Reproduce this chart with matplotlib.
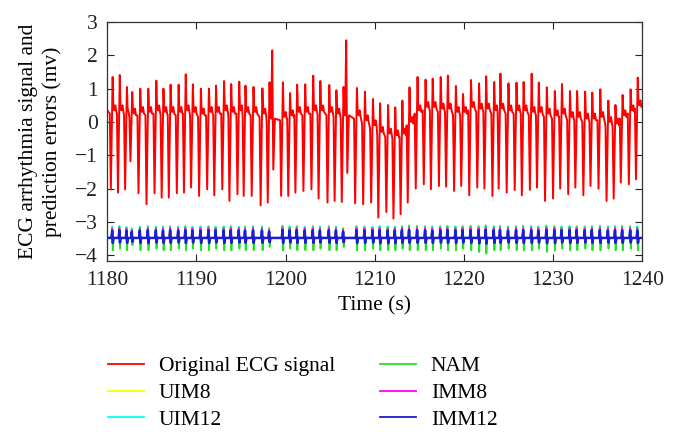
import matplotlib
matplotlib.use("Agg")
import matplotlib.pyplot as plt
from matplotlib.lines import Line2D

# ---------------- data ----------------
beat_t = [1180.6, 1181.4, 1182.2, 1182.8, 1183.7, 1184.6, 1185.5, 1186.3, 1187.1, 1188.0,
          1188.8, 1189.6, 1190.5, 1191.4, 1192.2, 1193.1, 1193.9, 1194.8, 1195.5, 1196.4,
          1197.4, 1198.2, 1199.7, 1200.5, 1201.3, 1202.2, 1203.1, 1203.9, 1204.9, 1205.7,
          1206.5, 1208.0, 1208.9, 1209.8, 1210.6, 1211.5, 1212.3, 1213.1, 1213.9, 1214.8,
          1215.7, 1216.5, 1217.4, 1218.2, 1219.1, 1219.9, 1220.8, 1221.7, 1222.5, 1223.4,
          1224.1, 1225.0, 1225.9, 1226.7, 1227.6, 1228.4, 1229.3, 1230.2, 1231.0, 1231.9,
          1232.7, 1233.6, 1234.4, 1235.3, 1236.2, 1237.0, 1237.8, 1238.7, 1239.5]
r_peak = [1.35, 1.41, 1.05, 0.90, 1.00, 1.00, 1.24, 1.00, 1.12, 1.12,
          1.43, 1.13, 1.00, 1.00, 1.09, 1.23, 1.14, 1.21, 1.09, 1.05,
          1.01, 1.19, 1.19, 0.87, 1.12, 1.13, 1.39, 1.23, 1.11, 0.95,
          1.05, 1.02, 0.91, 0.69, 0.56, 0.51, 0.44, 0.64, 1.04, 1.35,
          1.27, 1.30, 1.35, 1.39, 1.08, 0.84, 1.26, 1.16, 1.37, 1.20,
          1.45, 1.16, 1.18, 1.20, 1.45, 1.18, 1.04, 0.93, 1.14, 0.93,
          0.93, 0.91, 0.88, 0.98, 0.64, 0.51, 0.81, 0.98, 1.33]
s_trough = [-2.02, -2.12, -2.02, -1.18, -2.14, -2.47, -2.14, -2.27, -2.27, -2.14,
            -2.12, -1.97, -2.22, -2.02, -2.20, -2.02, -2.37, -2.17, -2.22, -2.22,
            -2.50, -2.42, -2.22, -2.22, -2.12, -2.07, -2.02, -2.30, -2.42, -2.37,
            -2.40, -2.44, -2.47, -2.42, -2.87, -2.70, -2.90, -2.77, -2.42, -2.00,
            -1.87, -2.02, -1.92, -1.94, -2.07, -1.92, -2.20, -1.97, -2.00, -2.22,
            -2.00, -2.12, -2.04, -2.20, -2.04, -1.97, -2.37, -2.30, -2.00, -2.17,
            -1.97, -2.20, -1.92, -2.00, -2.37, -2.30, -1.82, -1.87, -1.72]
base = [0.35, 0.35, 0.30, 0.25, 0.30, 0.30, 0.35, 0.30, 0.30, 0.30,
        0.35, 0.30, 0.25, 0.30, 0.30, 0.35, 0.30, 0.35, 0.30, 0.30,
        0.25, 0.10, 0.15, 0.20, 0.30, 0.30, 0.35, 0.35, 0.30, 0.25,
        0.20, 0.20, 0.05, -0.10, -0.30, -0.35, -0.40, -0.35, 0.00, 0.35,
        0.45, 0.45, 0.40, 0.40, 0.30, 0.30, 0.45, 0.40, 0.40, 0.35,
        0.40, 0.35, 0.35, 0.35, 0.30, 0.30, 0.25, 0.20, 0.25, 0.15,
        0.15, 0.10, 0.10, 0.15, 0.00, -0.05, 0.20, 0.35, 0.50]
ect_t = [1198.5, 1206.8]
ect_peak = [2.15, 2.45]
ect_trough = [-1.43, -1.53]

err_base = -3.48
nam_hi = [-3.17, -3.15, -3.18, -3.22, -3.16, -3.15, -3.17, -3.16, -3.15, -3.17,
          -3.15, -3.17, -3.16, -3.15, -3.17, -3.16, -3.15, -3.17, -3.16, -3.15,
          -3.16, -3.20, -3.13, -3.16, -3.15, -3.17, -3.15, -3.16, -3.15, -3.17,
          -3.20, -3.15, -3.16, -3.17, -3.15, -3.16, -3.17, -3.15, -3.12, -3.14,
          -3.15, -3.16, -3.15, -3.14, -3.16, -3.15, -3.14, -3.15, -3.12, -3.15,
          -3.14, -3.16, -3.15, -3.14, -3.15, -3.16, -3.13, -3.15, -3.16, -3.15,
          -3.15, -3.16, -3.15, -3.14, -3.16, -3.15, -3.14, -3.15, -3.16]
nam_lo = [-3.85, -3.80, -3.85, -3.70, -3.85, -3.85, -3.80, -3.85, -3.85, -3.80,
          -3.85, -3.80, -3.85, -3.85, -3.80, -3.85, -3.85, -3.80, -3.85, -3.85,
          -3.85, -3.75, -3.85, -3.80, -3.85, -3.85, -3.85, -3.80, -3.85, -3.85,
          -3.75, -3.85, -3.85, -3.80, -3.85, -3.85, -3.85, -3.80, -3.85, -3.85,
          -3.85, -3.85, -3.80, -3.85, -3.85, -3.80, -3.85, -3.90, -3.95, -3.85,
          -3.85, -3.80, -3.85, -3.85, -3.85, -3.80, -3.90, -3.85, -3.80, -3.85,
          -3.85, -3.80, -3.85, -3.85, -3.80, -3.85, -3.85, -3.80, -3.85]
uim8_hi = [-3.18, -3.17, -3.19, -3.22, -3.18, -3.17, -3.18, -3.18, -3.17, -3.18,
           -3.17, -3.18, -3.18, -3.17, -3.18, -3.18, -3.17, -3.18, -3.18, -3.17,
           -3.18, -3.21, -3.16, -3.18, -3.17, -3.18, -3.17, -3.18, -3.17, -3.18,
           -3.21, -3.17, -3.18, -3.18, -3.17, -3.18, -3.18, -3.17, -3.16, -3.17,
           -3.17, -3.18, -3.17, -3.17, -3.18, -3.17, -3.17, -3.17, -3.16, -3.17,
           -3.17, -3.18, -3.17, -3.17, -3.17, -3.18, -3.16, -3.17, -3.18, -3.17,
           -3.17, -3.18, -3.17, -3.17, -3.18, -3.17, -3.17, -3.17, -3.18]
uim8_lo = [-3.58, -3.57, -3.58, -3.55, -3.58, -3.59, -3.57, -3.58, -3.58, -3.57,
           -3.58, -3.57, -3.58, -3.58, -3.57, -3.58, -3.58, -3.57, -3.58, -3.58,
           -3.58, -3.56, -3.58, -3.57, -3.58, -3.58, -3.58, -3.57, -3.58, -3.58,
           -3.56, -3.58, -3.58, -3.57, -3.59, -3.59, -3.59, -3.58, -3.58, -3.58,
           -3.58, -3.58, -3.57, -3.58, -3.58, -3.57, -3.58, -3.59, -3.60, -3.58,
           -3.58, -3.57, -3.58, -3.58, -3.58, -3.57, -3.59, -3.58, -3.57, -3.58,
           -3.58, -3.57, -3.58, -3.58, -3.57, -3.58, -3.58, -3.57, -3.58]
uim12_hi = [-3.14, -3.12, -3.15, -3.19, -3.14, -3.12, -3.14, -3.13, -3.12, -3.14,
            -3.12, -3.14, -3.13, -3.12, -3.14, -3.13, -3.12, -3.14, -3.13, -3.12,
            -3.13, -3.18, -3.11, -3.13, -3.12, -3.14, -3.12, -3.13, -3.12, -3.14,
            -3.18, -3.12, -3.13, -3.14, -3.12, -3.13, -3.14, -3.12, -3.10, -3.11,
            -3.12, -3.13, -3.12, -3.11, -3.13, -3.12, -3.11, -3.12, -3.10, -3.12,
            -3.11, -3.13, -3.12, -3.11, -3.12, -3.13, -3.10, -3.12, -3.13, -3.12,
            -3.12, -3.13, -3.12, -3.11, -3.13, -3.12, -3.11, -3.12, -3.13]
uim12_lo = [-3.57, -3.56, -3.57, -3.54, -3.57, -3.58, -3.56, -3.57, -3.57, -3.56,
            -3.57, -3.56, -3.57, -3.57, -3.56, -3.57, -3.57, -3.56, -3.57, -3.57,
            -3.57, -3.55, -3.57, -3.56, -3.57, -3.57, -3.57, -3.56, -3.57, -3.57,
            -3.55, -3.57, -3.57, -3.56, -3.58, -3.58, -3.58, -3.57, -3.57, -3.57,
            -3.57, -3.57, -3.56, -3.57, -3.57, -3.56, -3.57, -3.58, -3.59, -3.57,
            -3.57, -3.56, -3.57, -3.57, -3.57, -3.56, -3.58, -3.57, -3.56, -3.57,
            -3.57, -3.56, -3.57, -3.57, -3.56, -3.57, -3.57, -3.56, -3.57]
imm8_hi = [-3.21, -3.20, -3.22, -3.25, -3.21, -3.20, -3.21, -3.21, -3.20, -3.21,
           -3.20, -3.21, -3.21, -3.20, -3.21, -3.21, -3.20, -3.21, -3.21, -3.20,
           -3.21, -3.24, -3.19, -3.21, -3.20, -3.21, -3.20, -3.21, -3.20, -3.21,
           -3.24, -3.20, -3.21, -3.21, -3.20, -3.21, -3.21, -3.20, -3.19, -3.20,
           -3.20, -3.21, -3.20, -3.20, -3.21, -3.20, -3.20, -3.20, -3.19, -3.20,
           -3.20, -3.21, -3.20, -3.20, -3.20, -3.21, -3.19, -3.20, -3.21, -3.20,
           -3.20, -3.21, -3.20, -3.20, -3.21, -3.20, -3.20, -3.20, -3.21]
imm8_lo = [-3.60, -3.59, -3.60, -3.57, -3.60, -3.61, -3.59, -3.60, -3.60, -3.59,
           -3.60, -3.59, -3.60, -3.60, -3.59, -3.60, -3.60, -3.59, -3.60, -3.60,
           -3.60, -3.58, -3.60, -3.59, -3.60, -3.60, -3.60, -3.59, -3.60, -3.60,
           -3.58, -3.60, -3.60, -3.59, -3.61, -3.61, -3.61, -3.60, -3.60, -3.60,
           -3.60, -3.60, -3.59, -3.60, -3.60, -3.59, -3.60, -3.61, -3.62, -3.60,
           -3.60, -3.59, -3.60, -3.60, -3.60, -3.59, -3.61, -3.60, -3.59, -3.60,
           -3.60, -3.59, -3.60, -3.60, -3.59, -3.60, -3.60, -3.59, -3.60]
imm12_hi = [-3.26, -3.25, -3.27, -3.30, -3.26, -3.25, -3.26, -3.26, -3.25, -3.26,
            -3.25, -3.26, -3.26, -3.25, -3.26, -3.26, -3.25, -3.26, -3.26, -3.25,
            -3.26, -3.29, -3.24, -3.26, -3.25, -3.26, -3.25, -3.26, -3.25, -3.26,
            -3.29, -3.25, -3.26, -3.26, -3.25, -3.26, -3.26, -3.25, -3.24, -3.25,
            -3.25, -3.26, -3.25, -3.25, -3.26, -3.25, -3.25, -3.25, -3.24, -3.25,
            -3.25, -3.26, -3.25, -3.25, -3.25, -3.26, -3.24, -3.25, -3.26, -3.25,
            -3.25, -3.26, -3.25, -3.25, -3.26, -3.25, -3.25, -3.25, -3.26]
imm12_lo = [-3.63, -3.62, -3.63, -3.60, -3.63, -3.64, -3.62, -3.63, -3.63, -3.62,
            -3.63, -3.62, -3.63, -3.63, -3.62, -3.63, -3.63, -3.62, -3.63, -3.63,
            -3.63, -3.61, -3.63, -3.62, -3.63, -3.63, -3.63, -3.62, -3.63, -3.63,
            -3.61, -3.63, -3.63, -3.62, -3.64, -3.64, -3.64, -3.63, -3.63, -3.63,
            -3.63, -3.63, -3.62, -3.63, -3.63, -3.62, -3.63, -3.64, -3.65, -3.63,
            -3.63, -3.62, -3.63, -3.63, -3.63, -3.62, -3.64, -3.63, -3.62, -3.63,
            -3.63, -3.62, -3.63, -3.63, -3.62, -3.63, -3.63, -3.62, -3.63]

x_ticks = [1180, 1190, 1200, 1210, 1220, 1230, 1240]
y_ticks = [-4, -3, -2, -1, 0, 1, 2, 3]
labels = ["Original ECG signal", "UIM8", "UIM12", "NAM", "IMM8", "IMM12"]
colors = ["#ff0000", "#ffff00", "#00ffff", "#22e022", "#ff00ff", "#1c1cd0"]

# ---------------- build the ECG polyline from per-beat values ----------------
events = []
for t, p, s, b in zip(beat_t, r_peak, s_trough, base):
    pre = [(t - 0.32, b - 0.1), (t - 0.2, s), (t, p)]
    post = [(t + 0.08, b + 0.12), (t + 0.18, b), (t + 0.3, b + 0.15), (t + 0.42, b - 0.05)]
    events.append((t, pre, post))
for t, p, s in zip(ect_t, ect_peak, ect_trough):
    bprev = [b for bt, b in zip(beat_t, base) if bt < t][-1]
    pre = [(t - 0.12, bprev), (t, p)]
    post = [(t + 0.12, s), (t + 0.3, bprev)]
    events.append((t, pre, post))
events.sort(key=lambda e: e[0])

ecg_x = [1180.0]
ecg_y = [base[0]]
for i, (t, pre, post) in enumerate(events):
    for px, py in pre:
        if px > ecg_x[-1]:
            ecg_x.append(px); ecg_y.append(py)
    limit = events[i + 1][1][0][0] if i + 1 < len(events) else 1240.0
    for px, py in post:
        if px < limit and px <= 1240.0:
            ecg_x.append(px); ecg_y.append(py)
if ecg_x[-1] < 1240.0:
    ecg_x.append(1240.0); ecg_y.append(ecg_y[-1])


def err_line(hi, lo):
    xs, ys = [1180.0], [err_base]
    for t, h, l in zip(beat_t, hi, lo):
        for px, py in [(t - 0.12, err_base), (t - 0.05, h), (t + 0.02, l), (t + 0.1, err_base)]:
            if xs[-1] < px <= 1240.0:
                xs.append(px); ys.append(py)
    xs.append(1240.0); ys.append(err_base)
    return xs, ys


# ---------------- figure ----------------
plt.rcParams['font.family'] = ['Liberation Serif', 'DejaVu Serif']
FS = 15.5
fig = plt.figure(figsize=(6.76, 4.40), dpi=100)
ax = fig.add_axes([0.1587, 0.407, 0.7913, 0.543])

ax.plot(ecg_x, ecg_y, color=colors[0], lw=1.4, label=labels[0])
series = [(uim8_hi, uim8_lo, 1), (uim12_hi, uim12_lo, 2), (nam_hi, nam_lo, 3),
          (imm8_hi, imm8_lo, 4), (imm12_hi, imm12_lo, 5)]
for hi, lo, k in series:
    xs, ys = err_line(hi, lo)
    ax.plot(xs, ys, color=colors[k], lw=1.8 if k == 5 else 1.3, label=labels[k])

ax.set_xlim(1180, 1240)
ax.set_ylim(-4.17, 3.0)
ax.set_xticks(x_ticks)
ax.set_yticks(y_ticks)
ax.tick_params(direction='in', top=True, right=True, length=5, width=0.8,
               labelsize=FS, pad=7, colors='#222222')
for sp in ax.spines.values():
    sp.set_color('#333333')
    sp.set_linewidth(0.9)

ax.set_xlabel("Time (s)", fontsize=FS, labelpad=5)
ax.set_ylabel("ECG arrhythmia signal and\nprediction errors (mv)", fontsize=FS,
              linespacing=1.3)
ax.yaxis.set_label_coords(-0.085, 0.5)

handles = [Line2D([0], [0], color=c, lw=1.3) for c in colors]
fig.legend(handles, labels, loc='upper left', bbox_to_anchor=(0.160, 0.19),
           ncol=2, frameon=False, fontsize=FS, handlelength=1.65,
           handletextpad=0.7, columnspacing=2.1, labelspacing=0.31,
           borderpad=0, borderaxespad=0)

fig.savefig("out.png", dpi=100, facecolor='white')
